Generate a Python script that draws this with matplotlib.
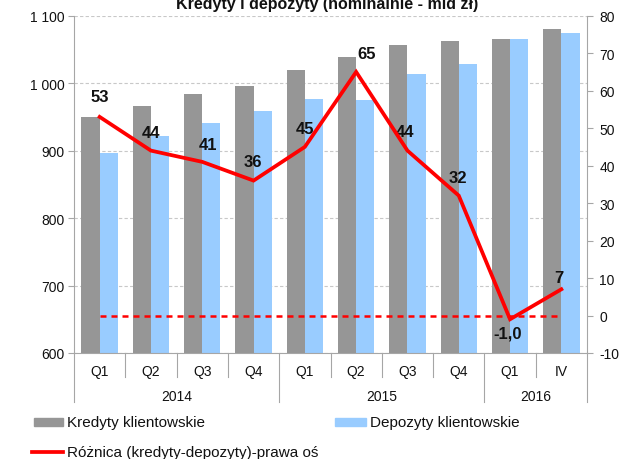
import matplotlib
matplotlib.use("Agg")
import matplotlib.pyplot as plt
from matplotlib.lines import Line2D
from matplotlib.patches import Rectangle
from matplotlib.transforms import blended_transform_factory
import numpy as np

plt.rcParams['font.family'] = ['Liberation Sans', 'DejaVu Sans']

quarters = ["Q1", "Q2", "Q3", "Q4", "Q1", "Q2", "Q3", "Q4", "Q1", "IV"]
years = ["2014", "2015", "2016"]
year_counts = [4, 4, 2]
kredyty = [950, 966, 984, 996, 1020, 1039, 1057, 1062, 1066, 1081]
depozyty = [897, 922, 941, 959, 977, 975, 1013, 1028, 1066, 1074]
roznica = [53, 44, 41, 36, 45, 65, 44, 32, -1, 7]
roznica_labels = ["53", "44", "41", "36", "45", "65", "44", "32", "-1,0", "7"]
left_ticks = [600, 700, 800, 900, 1000, 1100]
left_tick_labels = ["600", "700", "800", "900", "1 000", "1 100"]
right_ticks = [-10, 0, 10, 20, 30, 40, 50, 60, 70, 80]

# label offsets in pixels (dx, dy)
label_offsets = [(0, 20), (0, 18), (6, 17), (-1, 19), (0, 18), (10, 18),
                 (-2, 19), (-1, 18), (-2, -14), (-2, 12)]

GRAY = "#969696"
BLUE = "#99ccff"
RED = "#ff0000"
AXC = "#a6a6a6"

W, H = 621, 460
fig = plt.figure(figsize=(W / 100, H / 100), dpi=100)
L, R, B, T = 74, 587, 354, 16.7
ax = fig.add_axes([L / W, (H - B) / H, (R - L) / W, (B - T) / H])
ax2 = ax.twinx()

x = np.arange(len(quarters))
bw = 0.355
ax.bar(x - bw / 2, kredyty, width=bw, color=GRAY, zorder=2)
ax.bar(x + bw / 2, depozyty, width=bw, color=BLUE, zorder=2)
ax.set_xlim(-0.5, len(quarters) - 0.5)
ax.set_ylim(left_ticks[0], left_ticks[-1])
ax.set_yticks(left_ticks)
ax.set_yticklabels(left_tick_labels)
ax.set_axisbelow(True)
ax.yaxis.grid(True, color="#c8c8c8", linestyle=(0, (3, 2)), linewidth=0.8)
ax.set_xticks([])
for s in ["top", "right"]:
    ax.spines[s].set_visible(False)
ax.spines["left"].set_color(AXC)
ax.spines["bottom"].set_color(AXC)
ax.tick_params(axis="y", colors=AXC, labelcolor="#111111", labelsize=10, length=4, width=0.8, pad=3)

ax2.set_ylim(right_ticks[0], right_ticks[-1])
ax2.set_yticks(right_ticks)
ax2.set_yticklabels([str(v) for v in right_ticks])
for s in ["top", "left", "bottom"]:
    ax2.spines[s].set_visible(False)
ax2.spines["right"].set_color(AXC)
ax2.tick_params(axis="y", colors=AXC, labelcolor="#111111", labelsize=10, length=4, width=0.8, pad=5)

ax2.hlines(0, x[0], x[-1], colors=RED, linewidth=1.8, linestyles=(0, (2.4, 2.0)), zorder=3)
ax2.plot(x, roznica, color=RED, linewidth=2.7, zorder=4, solid_joinstyle="miter")
for xi, v, lab, (dx, dy) in zip(x, roznica, roznica_labels, label_offsets):
    ax2.annotate(lab, (xi, v), xytext=(dx, dy), textcoords="offset pixels",
                 ha="center", va="center", fontsize=12, fontweight="bold", color="#111111")

# category axis: two-level labels
trans = blended_transform_factory(ax.transData, ax.transAxes)
ah = B - T
q_y = -(371.7 - B) / ah
y_y = -(396.7 - B) / ah
short_end = -(378 - B) / ah
long_end = -(403 - B) / ah
for xi, q in zip(x, quarters):
    ax.text(xi, q_y, q, transform=trans, ha="center", va="center", fontsize=10, color="#111111")
boundaries = set([0] + list(np.cumsum(year_counts)))
for i in range(len(quarters) + 1):
    end = long_end if i in boundaries else short_end
    ax.add_line(Line2D([i - 0.5, i - 0.5], [0, end], transform=trans, color=AXC,
                       linewidth=0.8, clip_on=False))
start = 0
for yname, cnt in zip(years, year_counts):
    ax.text(start + (cnt - 1) / 2, y_y, yname, transform=trans, ha="center", va="center",
            fontsize=10, color="#111111")
    start += cnt

# title (partly cut at top, as in reference)
fig.text(327.5 / W, 1 - 9 / H, "Kredyty i depozyty (nominalnie - mld zł)", ha="center",
         va="baseline", fontsize=11.5, fontweight="bold", color="#111111")

# legend drawn manually
def fy(py):
    return 1 - py / H

fig.patches.append(Rectangle((34 / W, fy(426.5)), 28.7 / W, 7.7 / H, transform=fig.transFigure,
                             color=GRAY))
fig.text(67 / W, fy(422.7), "Kredyty klientowskie", ha="left", va="center", fontsize=11, color="#111111")
fig.patches.append(Rectangle((335 / W, fy(426.5)), 30.7 / W, 7.7 / H, transform=fig.transFigure,
                             color=BLUE))
fig.text(370 / W, fy(422.7), "Depozyty klientowskie", ha="left", va="center", fontsize=11, color="#111111")
fig.lines.append(Line2D([31.7 / W, 63.3 / W], [fy(452.7), fy(452.7)], transform=fig.transFigure,
                        color=RED, linewidth=2.7))
fig.text(67 / W, fy(452.7), "Różnica (kredyty-depozyty)-prawa oś", ha="left", va="center",
         fontsize=11, color="#111111")

fig.savefig("out.png", dpi=100)
